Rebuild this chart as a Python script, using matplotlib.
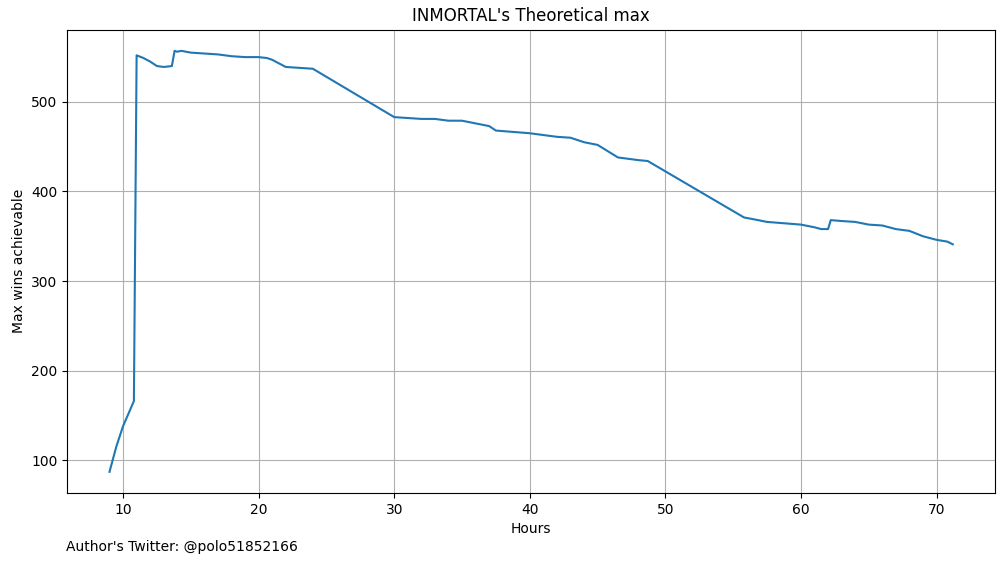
import matplotlib
matplotlib.use("Agg")
import matplotlib.pyplot as plt

hours = [9, 9.5, 10, 10.8, 11, 11.5, 12, 12.5, 13, 13.6, 13.8, 14, 14.3, 15, 16, 17, 18, 19, 20, 20.6, 21,
         22, 23, 24, 30, 32, 33, 34, 35, 36, 37, 37.5, 40, 41, 42, 43, 44, 45, 46.5, 47, 48, 48.7,
         55.8, 56.5, 57.5, 60, 61, 61.5, 62, 62.2, 63, 64, 65, 66, 67, 68, 69, 70, 70.8, 71.2]
wins = [87, 115, 138, 166, 552, 549, 545, 540, 539, 540, 557, 556, 557, 555, 554, 553, 551, 550, 550, 549, 547,
        539, 538, 537, 483, 481, 481, 479, 479, 476, 473, 468, 465, 463, 461, 460, 455, 452, 438, 437, 435, 434,
        371, 369, 366, 363, 360, 358, 358, 368, 367, 366, 363, 362, 358, 356, 350, 346, 344, 341]

fig, ax = plt.subplots(figsize=(10.05, 5.62), dpi=100)
fig.subplots_adjust(left=0.067, right=0.99, top=0.947, bottom=0.123)
ax.plot(hours, wins, color="#1f77b4")
ax.grid(True)
ax.set_title("INMORTAL's Theoretical max")
ax.set_xlabel("Hours")
ax.set_ylabel("Max wins achievable")
fig.text(0.066, 0.02, "Author's Twitter: @polo51852166", fontsize=10)
fig.savefig("out.png")
